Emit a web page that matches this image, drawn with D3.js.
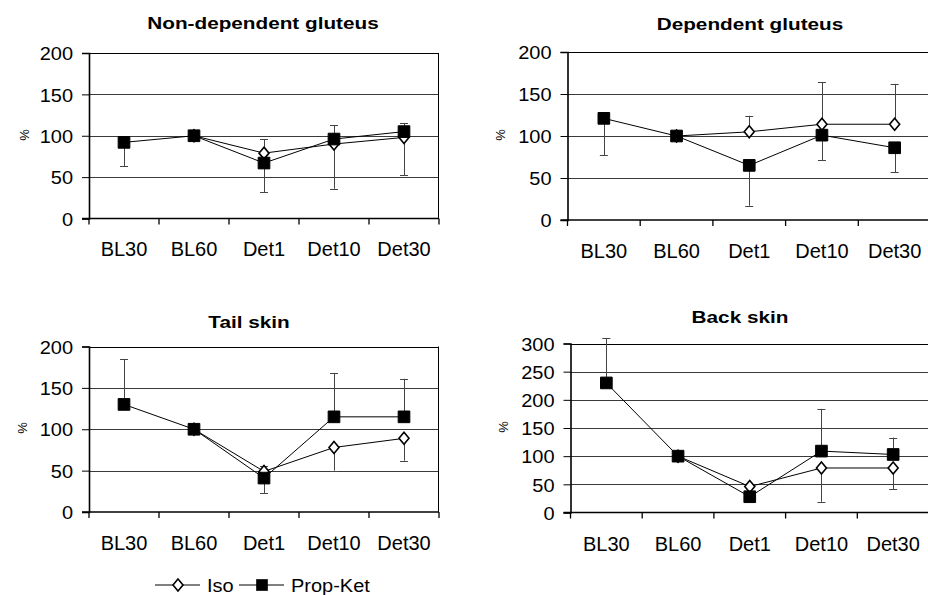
<!DOCTYPE html>
<html><head><meta charset="utf-8">
<script src="https://cdn.jsdelivr.net/npm/d3@7"></script>
<style>
html,body{margin:0;padding:0;background:#fff;}
svg text{font-family:"Liberation Sans",Arial,Helvetica,sans-serif;fill:#000;}
</style></head>
<body><svg id="c" width="928" height="595"></svg>
<script>
// ---- data ----
const categories = ["BL30", "BL60", "Det1", "Det10", "Det30"];
const seriesNames = ["Iso", "Prop-Ket"];
const titles = ["Non-dependent gluteus", "Dependent gluteus", "Tail skin", "Back skin"];
const yTicks200 = [0, 50, 100, 150, 200];
const yTicks300 = [0, 50, 100, 150, 200, 250, 300];

// Non-dependent gluteus
const ndIso    = [null, 100, 79, 90, 98];
const ndIsoErr = [null, null, 96, 36, 52];   // error bar end values
const ndPK     = [92, 100, 67, 96, 105];
const ndPKErr  = [63, null, 32, 113, 115];
// Dependent gluteus
const dgIso    = [null, 100, 105, 114, 114];
const dgIsoErr = [null, null, 124, 164, 162];
const dgPK     = [121, 100, 65, 101, 86];
const dgPKErr  = [77, null, 17, 71, 57];
// Tail skin
const tsIso    = [null, 100, 49, 78, 89];
const tsIsoErr = [null, null, 56, 50, 62];
const tsPK     = [130, 100, 41, 115, 115];
const tsPKErr  = [185, null, 23, 168, 161];
// Back skin
const bsIso    = [null, 100, 46, 79, 79];
const bsIsoErr = [null, null, null, 19, 41];
const bsPK     = [230, 100, 28, 109, 103];
const bsPKErr  = [309, null, null, 184, 133];

// ---- layout ----
const panels = [
  {title: titles[0], iso: ndIso, isoErr: ndIsoErr, pk: ndPK, pkErr: ndPKErr, ticks: yTicks200,
   x0: 89, x1: 439, yTop: 53, yBot: 218.5, titleX: 263, titleY: 29, labY: 256, pctX: 24, pctY: 135},
  {title: titles[1], iso: dgIso, isoErr: dgIsoErr, pk: dgPK, pkErr: dgPKErr, ticks: yTicks200,
   x0: 567.5, x1: 931, yTop: 52, yBot: 220, titleX: 750, titleY: 30, labY: 258, pctX: 500, pctY: 135},
  {title: titles[2], iso: tsIso, isoErr: tsIsoErr, pk: tsPK, pkErr: tsPKErr, ticks: yTicks200,
   x0: 89, x1: 439, yTop: 346.5, yBot: 512, titleX: 249, titleY: 328, labY: 550, pctX: 22, pctY: 428},
  {title: titles[3], iso: bsIso, isoErr: bsIsoErr, pk: bsPK, pkErr: bsPKErr, ticks: yTicks300,
   x0: 570.5, x1: 929, yTop: 343.5, yBot: 512.5, titleX: 740, titleY: 323, labY: 550.5, pctX: 503, pctY: 427}
];

const svg = d3.select("#c");
const squareSym = d3.symbol().type(d3.symbolSquare).size(136);
const diamondPath = "M0,-6L5,0L0,6L-5,0Z";

panels.forEach(p => {
  const g = svg.append("g");
  const x = d3.scaleBand().domain(categories).range([p.x0, p.x1]).padding(0);
  const yMax = d3.max(p.ticks);
  const y = d3.scaleLinear().domain([0, yMax]).range([p.yBot, p.yTop]);

  // gridlines
  g.append("g").selectAll("line").data(p.ticks.filter(t => t > 0)).join("line")
    .attr("x1", p.x0).attr("x2", p.x1)
    .attr("y1", d => Math.round(y(d)) + 0.5).attr("y2", d => Math.round(y(d)) + 0.5)
    .attr("stroke", d => d === yMax ? "#000" : "#3a3a3a").attr("stroke-width", 1);
  // right border
  g.append("line").attr("x1", p.x1 - 0.5).attr("x2", p.x1 - 0.5)
    .attr("y1", y(yMax)).attr("y2", y(0)).attr("stroke", "#000");

  // y axis
  const ya = g.append("g").attr("transform", `translate(${p.x0},0)`)
    .call(d3.axisLeft(y).tickValues(p.ticks).tickSize(7).tickPadding(9).tickFormat(d3.format("d")));
  ya.select(".domain").attr("stroke", "#000").attr("stroke-width", 1.6);
  ya.selectAll(".tick line").attr("stroke", "#000");
  ya.selectAll(".tick text").attr("font-size", 20).attr("font-family", "Liberation Sans, Arial, sans-serif")
    .attr("transform", "scale(1,0.93)").attr("dy", "0.36em");

  // x axis
  const xa = g.append("g").attr("transform", `translate(0,${p.yBot})`)
    .call(d3.axisBottom(x).tickSize(0).tickPadding(0));
  xa.select(".domain").remove();
  xa.selectAll(".tick text").attr("font-size", 20).attr("font-family", "Liberation Sans, Arial, sans-serif")
    .attr("y", p.labY - p.yBot).attr("dy", 0);
  g.append("line").attr("x1", p.x0 - 7).attr("x2", p.x1).attr("y1", p.yBot).attr("y2", p.yBot)
    .attr("stroke", "#000").attr("stroke-width", 1.6);
  const edges = categories.map(c => x(c)).concat([p.x1]);
  g.append("g").selectAll("line").data(edges).join("line")
    .attr("x1", d => d).attr("x2", d => d).attr("y1", p.yBot).attr("y2", p.yBot + 6)
    .attr("stroke", "#000").attr("stroke-width", 1.3);

  // title
  g.append("text").attr("transform", `translate(${p.titleX},${p.titleY}) scale(1.22,1)`)
    .attr("text-anchor", "middle").attr("font-weight", "bold").attr("font-size", 17).text(p.title);
  // % label
  g.append("text").attr("transform", `translate(${p.pctX},${p.pctY}) rotate(-90)`)
    .attr("text-anchor", "middle").attr("dy", "0.35em").attr("font-size", 13).text("%");

  const cx = i => x(categories[i]) + x.bandwidth() / 2;
  const line = d3.line().defined(d => d.v != null).x(d => cx(d.i)).y(d => y(d.v));
  const toPts = arr => arr.map((v, i) => ({v, i}));

  // series lines
  [p.iso, p.pk].forEach(arr => {
    g.append("path").datum(toPts(arr)).attr("d", line)
      .attr("fill", "none").attr("stroke", "#000").attr("stroke-width", 1);
  });

  // error bars
  [[p.iso, p.isoErr], [p.pk, p.pkErr]].forEach(([vals, errs]) => {
    const data = errs.map((e, i) => ({e, v: vals[i], i})).filter(d => d.e != null && d.v != null);
    const eg = g.append("g").attr("stroke", "#444").attr("stroke-width", 1);
    eg.selectAll("line.v").data(data).join("line").attr("class", "v")
      .attr("x1", d => Math.round(cx(d.i)) + 0.5).attr("x2", d => Math.round(cx(d.i)) + 0.5)
      .attr("y1", d => y(d.v)).attr("y2", d => y(d.e));
    eg.selectAll("line.c").data(data).join("line").attr("class", "c")
      .attr("x1", d => cx(d.i) - 4).attr("x2", d => cx(d.i) + 4)
      .attr("y1", d => Math.round(y(d.e)) + 0.5).attr("y2", d => Math.round(y(d.e)) + 0.5);
  });

  // markers
  g.append("g").selectAll("path").data(toPts(p.iso).filter(d => d.v != null)).join("path")
    .attr("transform", d => `translate(${cx(d.i)},${y(d.v)})`)
    .attr("d", diamondPath).attr("fill", "#fff").attr("stroke", "#000").attr("stroke-width", 1.6);
  g.append("g").selectAll("path").data(toPts(p.pk).filter(d => d.v != null)).join("path")
    .attr("transform", d => `translate(${cx(d.i)},${y(d.v)})`)
    .attr("d", squareSym).attr("fill", "#000").attr("stroke", "#000").attr("stroke-width", 1);
});

// legend
const lg = svg.append("g");
const legendItems = [
  {name: seriesNames[0], x: 155, kind: "diamond"},
  {name: seriesNames[1], x: 239, kind: "square"}
];
legendItems.forEach(it => {
  const ly = 585;
  lg.append("line").attr("x1", it.x).attr("x2", it.x + 45).attr("y1", ly).attr("y2", ly)
    .attr("stroke", "#000").attr("stroke-width", 1);
  const m = lg.append("path").attr("transform", `translate(${it.x + 23},${ly})`);
  if (it.kind === "diamond") m.attr("d", diamondPath).attr("fill", "#fff").attr("stroke", "#000").attr("stroke-width", 1.6);
  else m.attr("d", squareSym).attr("fill", "#000");
  lg.append("text").attr("transform", `translate(${it.x + 52},${ly + 7}) scale(1,0.93)`)
    .attr("font-size", 20).text(it.name);
});
</script></body></html>
